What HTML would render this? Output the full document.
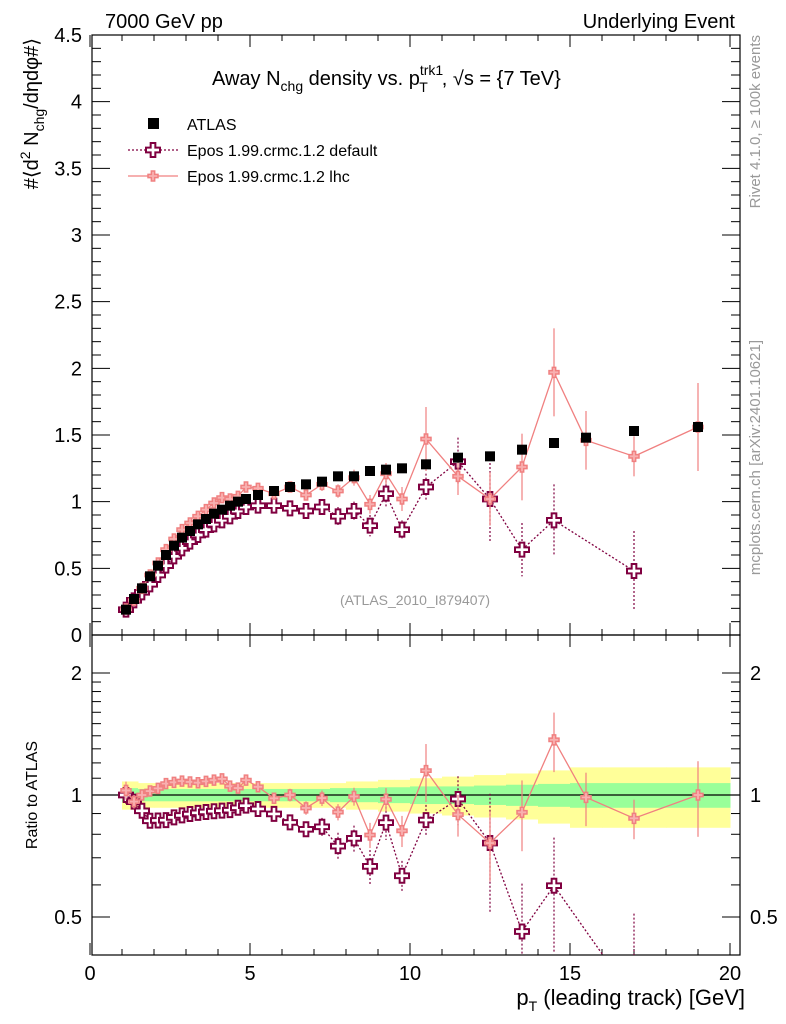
<!DOCTYPE html>
<html><head><meta charset="utf-8"><style>
html,body{margin:0;background:#fff;overflow:hidden;width:786px;height:1024px;}
svg{display:block;font-family:"Liberation Sans",sans-serif;}
</style></head><body>
<svg id="c" width="786" height="1024"></svg>
<script>
const xs=[1.125,1.375,1.625,1.875,2.125,2.375,2.625,2.875,3.125,3.375,3.625,3.875,4.125,4.375,4.625,4.875,5.25,5.75,6.25,6.75,7.25,7.75,8.25,8.75,9.25,9.75,10.5,11.5,12.5,13.5,14.5,15.5,17,19];
const atlas=[0.19,0.27,0.35,0.44,0.52,0.60,0.67,0.73,0.78,0.83,0.87,0.91,0.94,0.97,1.00,1.02,1.05,1.08,1.11,1.13,1.15,1.19,1.19,1.23,1.24,1.25,1.28,1.33,1.34,1.39,1.44,1.48,1.53,1.56];
const lhc=[0.195,0.26,0.35,0.45,0.54,0.64,0.72,0.79,0.84,0.89,0.94,0.99,1.03,1.02,1.04,1.11,1.10,1.06,1.11,1.05,1.13,1.08,1.18,0.98,1.21,1.02,1.47,1.19,1.02,1.26,1.97,1.46,1.34,1.56];
const lhcErr=[0.01,0.01,0.01,0.01,0.01,0.01,0.01,0.01,0.01,0.01,0.01,0.01,0.01,0.02,0.02,0.02,0.03,0.03,0.04,0.04,0.05,0.05,0.06,0.07,0.08,0.09,0.24,0.14,0.2,0.25,0.33,0.22,0.15,0.33];
const def=[0.19,0.26,0.32,0.38,0.45,0.52,0.59,0.65,0.70,0.75,0.79,0.83,0.86,0.89,0.93,0.96,0.97,0.97,0.95,0.93,0.96,0.89,0.93,0.82,1.06,0.79,1.11,1.30,1.02,0.64,0.86,null,0.48,null];
const defErr=[0.01,0.01,0.01,0.01,0.01,0.01,0.01,0.01,0.01,0.01,0.01,0.01,0.02,0.02,0.02,0.02,0.03,0.03,0.04,0.04,0.05,0.07,0.07,0.08,0.1,0.07,0.1,0.18,0.33,0.2,0.27,0,0.3,0];
const bandY=[0.08,0.08,0.07,0.07,0.07,0.07,0.07,0.07,0.07,0.07,0.07,0.07,0.07,0.07,0.07,0.07,0.07,0.07,0.07,0.07,0.07,0.07,0.08,0.08,0.09,0.09,0.1,0.11,0.12,0.13,0.15,0.17,0.17,0.17];
const bandG=[0.04,0.04,0.035,0.035,0.035,0.035,0.035,0.035,0.035,0.035,0.035,0.035,0.035,0.035,0.035,0.035,0.035,0.035,0.035,0.035,0.035,0.04,0.04,0.04,0.045,0.045,0.05,0.05,0.055,0.06,0.065,0.07,0.07,0.07];
const binEdges=[1,1.25,1.5,1.75,2,2.25,2.5,2.75,3,3.25,3.5,3.75,4,4.25,4.5,4.75,5,5.5,6,6.5,7,7.5,8,8.5,9,9.5,10,11,12,13,14,15,16,18,20];

const NS="http://www.w3.org/2000/svg";
const svg=document.getElementById('c');
const L=92,R=740,T=35,B=635,RB=955;
const X=v=>90+v*32;
const Y=v=>B-(v/4.5)*(B-T);
const RY=v=>795-Math.log2(v)*122;
function mk(tag,attrs,parent,name){const e=document.createElementNS(NS,tag);for(const k in attrs)e.setAttribute(k,attrs[k]);


(parent||svg).appendChild(e);return e;}
function txt(s,x,y,size,anchor,name,fill,extra){const t=mk('text',Object.assign({x:x,y:y,'font-size':size,'text-anchor':anchor||'start',fill:fill||'#000'},extra||{}),svg,name);t.innerHTML=s;return t;}

const defs=mk('clipPath',{id:'rc'},svg,'ratio-clip');mk('rect',{x:L,y:B,width:R-L,height:RB-B},defs,'ratio-clip-rect');
const bg=mk('g',{'clip-path':'url(#rc)'},svg,'ratio-bands');
for(let i=0;i<xs.length;i++){const x0=X(binEdges[i]),x1=X(binEdges[i+1]);
 mk('rect',{x:x0,y:RY(1+bandY[i]),width:x1-x0+0.5,height:RY(1-bandY[i])-RY(1+bandY[i]),fill:'#ffff99'},bg,'band-yellow');
 mk('rect',{x:x0,y:RY(1+bandG[i]),width:x1-x0+0.5,height:RY(1-bandG[i])-RY(1+bandG[i]),fill:'#99ff99'},bg,'band-green');}
mk('line',{x1:L,x2:R,y1:RY(1),y2:RY(1),stroke:'#000','stroke-width':1.2},svg,'ratio-unity-line');

mk('rect',{x:L,y:T,width:R-L,height:B-T,fill:'none',stroke:'#000','stroke-width':1.2},svg,'main-frame');
mk('rect',{x:L,y:B,width:R-L,height:RB-B,fill:'none',stroke:'#000','stroke-width':1.2},svg,'ratio-frame');
for(let v=0;v<=20;v++){const maj=v%5==0;const l=maj?12:6;
 [[T,1],[B,-1],[B,1],[RB,-1]].forEach(([y,d])=>mk('line',{x1:X(v),x2:X(v),y1:y,y2:y+d*l,stroke:'#000'},svg,'x-tick'));}
[0,5,10,15,20].forEach(v=>txt(v,X(v),980,20,'middle','x-tick-label'));
for(let i=0;i<=45;i++){const v=i/10;const maj=i%5==0;const l=maj?18:9;
 mk('line',{x1:L,x2:L+l,y1:Y(v),y2:Y(v),stroke:'#000'},svg,'y-tick');mk('line',{x1:R,x2:R-l,y1:Y(v),y2:Y(v),stroke:'#000'},svg,'y-tick-right');
 if(maj)txt(String(v),82,Y(v)+7,20,'end','y-tick-label');}
[0.5,0.6,0.7,0.8,0.9,1,1.1,1.2,1.3,1.4,1.5,1.6,1.7,1.8,1.9,2].forEach(v=>{const maj=(v==0.5||v==1||v==2);const l=maj?18:9;
 mk('line',{x1:L,x2:L+l,y1:RY(v),y2:RY(v),stroke:'#000'},svg,'ratio-tick');mk('line',{x1:R,x2:R-l,y1:RY(v),y2:RY(v),stroke:'#000'},svg,'ratio-tick-right');
 if(maj){txt(String(v),82,RY(v)+7,20,'end','ratio-tick-label');txt(String(v),750,RY(v)+7,20,'start','ratio-tick-label-right');}});

txt('7000 GeV pp',105,28,20,'start','header-left');
txt('Underlying Event',735,28,20,'end','header-right');
txt('Away N<tspan font-size="14" dy="6">chg</tspan><tspan dy="-6"> density vs. p</tspan><tspan font-size="14" dy="-10">trk1</tspan><tspan font-size="14" dx="-24" dy="17">T</tspan><tspan dx="14" dy="-7">, √s = {7 TeV}</tspan>',212,85,20,'start','plot-title');
txt('(ATLAS_2010_I879407)',415,605,14,'middle','analysis-id','#999');
txt('p<tspan font-size="14" dy="6">T</tspan><tspan dy="-6"> (leading track) [GeV]</tspan>',745,1005,22,'end','x-axis-title');
txt('#⟨d<tspan font-size="14" dy="-8">2</tspan><tspan dy="8"> N</tspan><tspan font-size="14" dy="6">chg</tspan><tspan dy="-6">/dηdφ#⟩</tspan>',0,0,20,'end','y-axis-title','#000',{transform:'translate(38,38) rotate(-90)'});
txt('Ratio to ATLAS',0,0,16,'middle','ratio-axis-title','#000',{transform:'translate(37,795) rotate(-90)'});
txt('Rivet 4.1.0, ≥ 100k events',0,0,15,'end','rivet-label','#999',{transform:'translate(760,35) rotate(-90)'});
txt('mcplots.cern.ch [arXiv:2401.10621]',0,0,15,'end','mcplots-label','#999',{transform:'translate(760,340) rotate(-90)'});

function cross(g,cx,cy,s,fill,stroke,sw,name){const a=s/2,b=s/6;
 mk('path',{d:`M${cx-b},${cy-a}h${2*b}v${a-b}h${a-b}v${2*b}h${-(a-b)}v${a-b}h${-2*b}v${-(a-b)}h${-(a-b)}v${-2*b}h${a-b}z`,fill:fill,stroke:stroke,'stroke-width':sw},g,name);}

function series(vals,errs,yf,ratio,color,dash,size,fill,sw,name,g){
 let pts=[];for(let i=0;i<xs.length;i++){if(vals[i]==null)continue;const v=ratio?vals[i]/atlas[i]:vals[i];const e=ratio?errs[i]/atlas[i]:errs[i];
  pts.push([X(xs[i]),yf(v)]);
  if(e>0.015)mk('line',{x1:X(xs[i]),x2:X(xs[i]),y1:yf(v+e),y2:yf(Math.max(v-e,0.01)),stroke:color,'stroke-width':1.2,'stroke-dasharray':dash},g,name+'-errbar');}
 mk('polyline',{points:pts.map(p=>p.join(',')).join(' '),fill:'none',stroke:color,'stroke-width':1.3,'stroke-dasharray':dash},g,name+'-line');
 pts.forEach(p=>cross(g,p[0],p[1],size,fill,color,sw,name+'-marker'));}

const gm=mk('g',{},svg,'main-series');
series(def,defErr,Y,false,'#800040','2,2',14,'#fff',2,'default',gm);
series(lhc,lhcErr,Y,false,'#f08080','',10,'#f8b0b0',1.5,'lhc',gm);
for(let i=0;i<xs.length;i++)mk('rect',{x:X(xs[i])-5,y:Y(atlas[i])-5,width:10,height:10,fill:'#000'},gm,'atlas-point');
const gr=mk('g',{'clip-path':'url(#rc)'},svg,'ratio-series');
series(def,defErr,RY,true,'#800040','2,2',14,'#fff',2,'default-ratio',gr);
series(lhc,lhcErr,RY,true,'#f08080','',10,'#f8b0b0',1.5,'lhc-ratio',gr);

mk('rect',{x:148,y:118,width:11,height:11,fill:'#000'},svg,'legend-atlas-marker');
txt('ATLAS',187,130,16,'start','legend-atlas-label');
mk('line',{x1:128,x2:178,y1:150,y2:150,stroke:'#800040','stroke-dasharray':'2,2','stroke-width':1.3},svg,'legend-default-line');
cross(svg,153,150,14,'#fff','#800040',2,'legend-default-marker');
txt('Epos 1.99.crmc.1.2 default',187,156,16,'start','legend-default-label');
mk('line',{x1:128,x2:178,y1:176,y2:176,stroke:'#f08080','stroke-width':1.3},svg,'legend-lhc-line');
cross(svg,153,176,10,'#f8b0b0','#f08080',1.5,'legend-lhc-marker');
txt('Epos 1.99.crmc.1.2 lhc',187,182,16,'start','legend-lhc-label');
</script>
</body></html>
